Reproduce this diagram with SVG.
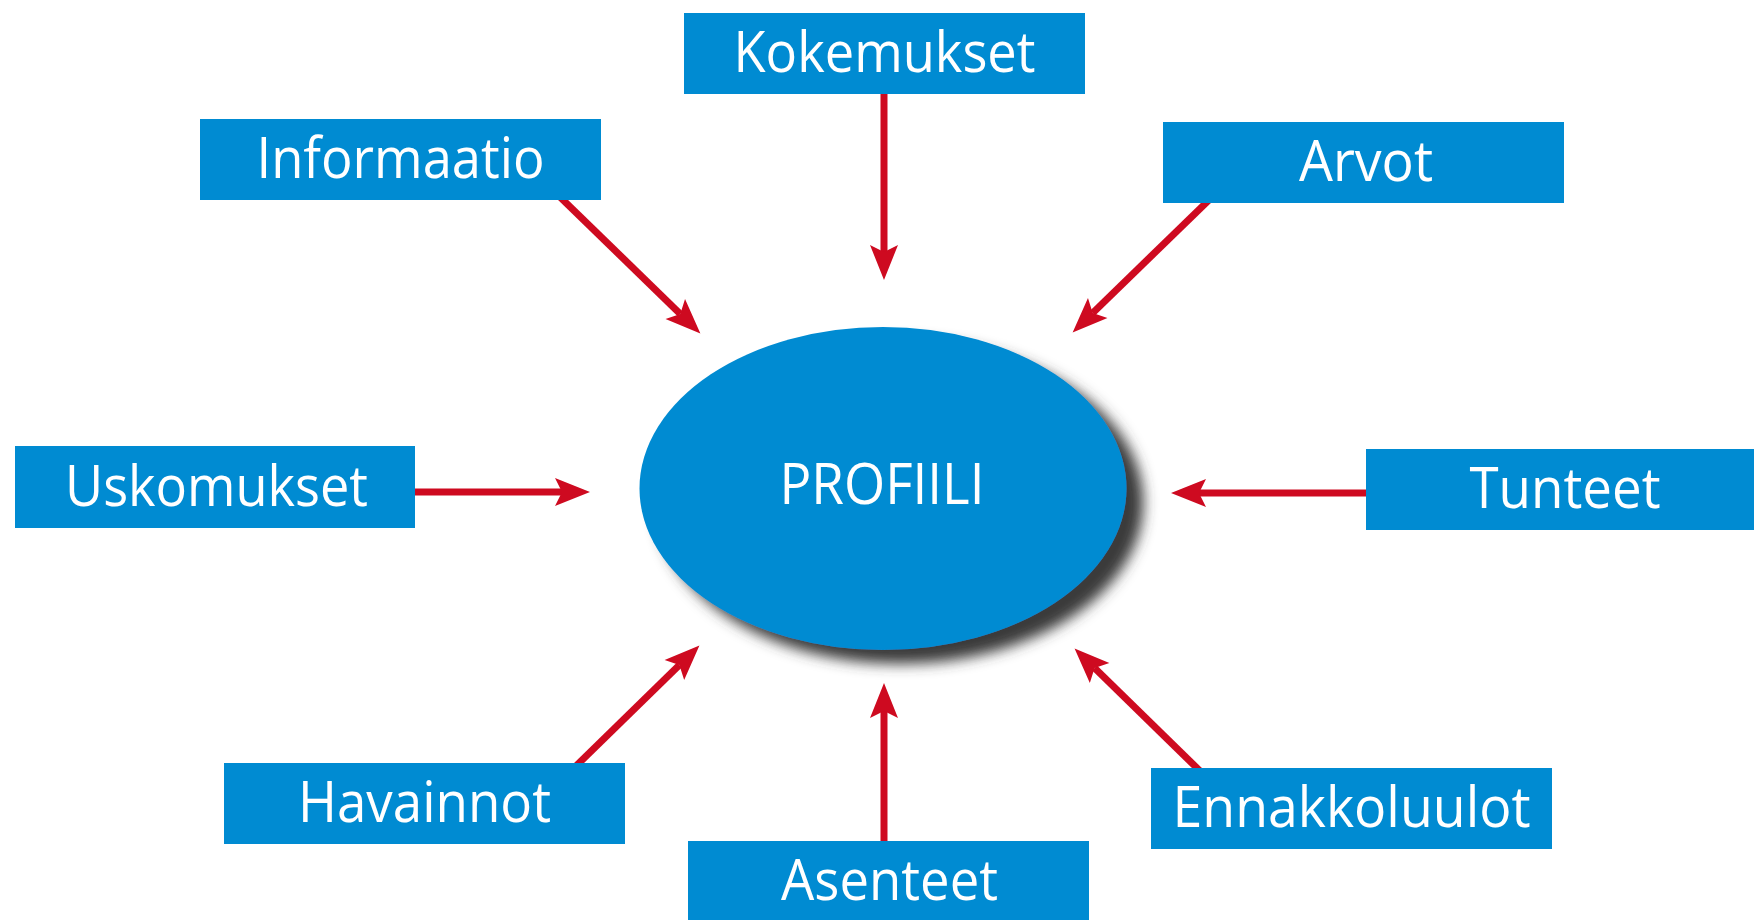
<svg xmlns="http://www.w3.org/2000/svg" width="1754" height="920" viewBox="0 0 1754 920">
<style>
.box{fill:#008BD2}
.lbl{font-family:"Open Sans","Noto Sans","Liberation Sans",sans-serif;font-size:56px;fill:#ffffff;text-anchor:middle}
.con{stroke:#CE0A20;stroke-width:7;fill:none;marker-end:url(#ah)}
</style>
<defs>
<marker id="ah" markerUnits="userSpaceOnUse" viewBox="-8 -15 38 30" markerWidth="38" markerHeight="30" refX="0" refY="0" orient="auto">
<path d="M28,0 L-7,-14 L0,0 L-7,14 Z" fill="#CE0A20"/>
</marker>
<filter id="sh" x="-20%" y="-20%" width="150%" height="150%">
<feDropShadow dx="17" dy="14" stdDeviation="7" flood-color="#3a3a3a" flood-opacity="1"/>
</filter>
</defs>
<rect width="1754" height="920" fill="#ffffff"/>
<g id="connectors">
<line class="con" x1="884" y1="90" x2="884" y2="252"/>
<line class="con" x1="560" y1="197" x2="680.3" y2="313.9"/>
<line class="con" x1="1209" y1="200" x2="1092.7" y2="312.9"/>
<line class="con" x1="410" y1="492" x2="562" y2="492"/>
<line class="con" x1="1370" y1="493" x2="1199" y2="493"/>
<line class="con" x1="576" y1="766" x2="679.4" y2="665.1"/>
<line class="con" x1="884" y1="845" x2="884" y2="711"/>
<line class="con" x1="1200" y1="771" x2="1094.6" y2="668.1"/>
</g>
<g id="profiili">
<ellipse cx="883" cy="488.5" rx="243.5" ry="161.5" fill="#008BD2" filter="url(#sh)"/>
<text class="lbl" x="882" y="504" textLength="205" lengthAdjust="spacingAndGlyphs">PROFIILI</text>
</g>
<g id="kokemukset">
<rect class="box" x="684" y="13" width="401" height="81"/>
<text class="lbl" x="884.5" y="72" textLength="302" lengthAdjust="spacingAndGlyphs">Kokemukset</text>
</g>
<g id="informaatio">
<rect class="box" x="200" y="119" width="401" height="81"/>
<text class="lbl" x="400.5" y="178" textLength="288" lengthAdjust="spacingAndGlyphs">Informaatio</text>
</g>
<g id="arvot">
<rect class="box" x="1163" y="122" width="401" height="81"/>
<text class="lbl" x="1366" y="181" textLength="134" lengthAdjust="spacingAndGlyphs">Arvot</text>
</g>
<g id="uskomukset">
<rect class="box" x="15" y="446" width="400" height="82"/>
<text class="lbl" x="216.5" y="506" textLength="303" lengthAdjust="spacingAndGlyphs">Uskomukset</text>
</g>
<g id="tunteet">
<rect class="box" x="1366" y="449" width="401" height="81"/>
<text class="lbl" x="1565" y="508" textLength="191" lengthAdjust="spacingAndGlyphs">Tunteet</text>
</g>
<g id="havainnot">
<rect class="box" x="224" y="763" width="401" height="81"/>
<text class="lbl" x="424.5" y="822" textLength="253" lengthAdjust="spacingAndGlyphs">Havainnot</text>
</g>
<g id="asenteet">
<rect class="box" x="688" y="841" width="401" height="81"/>
<text class="lbl" x="889.5" y="900" textLength="217" lengthAdjust="spacingAndGlyphs">Asenteet</text>
</g>
<g id="ennakkoluulot">
<rect class="box" x="1151" y="768" width="401" height="81"/>
<text class="lbl" x="1351.5" y="827" textLength="358" lengthAdjust="spacingAndGlyphs">Ennakkoluulot</text>
</g>
</svg>
